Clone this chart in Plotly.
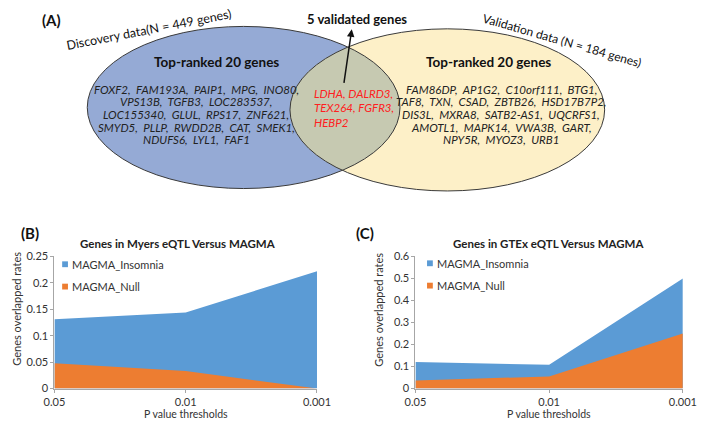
import numpy as np
import plotly.graph_objects as go

W, H = 720, 445

# ---------------- data ----------------
thresholds = ["0.05", "0.01", "0.001"]
myers_insomnia = [0.131, 0.144, 0.222]
myers_null = [0.048, 0.033, 0.0]
gtex_insomnia = [0.120, 0.108, 0.500]
gtex_null = [0.037, 0.055, 0.250]
series_names = ["MAGMA_Insomnia", "MAGMA_Null"]

S = ",\u00a0\u00a0"
left_genes = [
    ["FOXF2", "FAM193A", "PAIP1", "MPG", "INO80", ""],
    ["VPS13B", "TGFB3", "LOC283537", ""],
    ["LOC155340", "GLUL", "RPS17", "ZNF621", ""],
    ["SMYD5", "PLLP", "RWDD2B", "CAT", "SMEK1", ""],
    ["NDUFS6", "LYL1", "FAF1"],
]
right_genes = [
    ["FAM86DP", "AP1G2", "C10orf111", "BTG1", ""],
    ["TAF8", "TXN", "CSAD", "ZBTB26", "HSD17B7P2", ""],
    ["DIS3L", "MXRA8", "SATB2-AS1", "UQCRFS1", ""],
    ["AMOTL1", "MAPK14", "VWA3B", "GART", ""],
    ["NPY5R", "MYOZ3", "URB1"],
]
validated_lines = ["LDHA, DALRD3,", "TEX264, FGFR3,", "HEBP2"]

BLUE = "#5b9bd5"
ORANGE = "#ed7d31"
FONT = "Lato"


def px(x):
    return x / W


def py(y):
    return 1 - y / H


fig = go.Figure()

xi = list(range(len(thresholds)))
for xa, ya, ins, nul in [("x", "y", myers_insomnia, myers_null),
                         ("x2", "y2", gtex_insomnia, gtex_null)]:
    fig.add_trace(go.Scatter(x=xi, y=ins, xaxis=xa, yaxis=ya, mode="none", fill="tozeroy",
                             fillcolor=BLUE, name=series_names[0], showlegend=False))
    fig.add_trace(go.Scatter(x=xi, y=nul, xaxis=xa, yaxis=ya, mode="none", fill="tozeroy",
                             fillcolor=ORANGE, name=series_names[1], showlegend=False))

# ---------------- Venn ellipses ----------------
blue_c = (241, 103.5, 162, 83.5)
yel_c = (452, 106, 163, 83.5)
shapes = []
for (cx, cy, rx, ry), col in [(blue_c, "#95aad5"), (yel_c, "#fdf0c8")]:
    shapes.append(dict(type="circle", xref="paper", yref="paper",
                       x0=px(cx - rx), x1=px(cx + rx), y0=py(cy + ry), y1=py(cy - ry),
                       fillcolor=col, line=dict(width=0), layer="below"))


def inside(x, y, e):
    cx, cy, rx, ry = e
    return ((x - cx) / rx) ** 2 + ((y - cy) / ry) ** 2 <= 1


t = np.linspace(-np.pi, np.pi, 721)
bx = blue_c[0] + blue_c[2] * np.cos(t)
by = blue_c[1] + blue_c[3] * np.sin(t)
m = inside(bx, by, yel_c)
pts = list(zip(bx[m], by[m]))
t2 = np.linspace(0, 2 * np.pi, 721)
yx = yel_c[0] + yel_c[2] * np.cos(t2)
yy = yel_c[1] + yel_c[3] * np.sin(t2)
m2 = inside(yx, yy, blue_c)
pts += list(zip(yx[m2], yy[m2]))
path = "M " + " L ".join(f"{px(a):.5f},{py(b):.5f}" for a, b in pts) + " Z"
shapes.append(dict(type="path", xref="paper", yref="paper", path=path,
                   fillcolor="#c6c9b1", line=dict(width=0), layer="below"))
for (cx, cy, rx, ry) in [blue_c, yel_c]:
    shapes.append(dict(type="circle", xref="paper", yref="paper",
                       x0=px(cx - rx), x1=px(cx + rx), y0=py(cy + ry), y1=py(cy - ry),
                       line=dict(color="#3a3a3a", width=1), layer="below"))

ann = []


def text(x, y, s, size=11, color="#222222", bold=False, italic=False, angle=0, xanchor="center"):
    if bold:
        s = "<b>" + s + "</b>"
    if italic:
        s = "<i>" + s + "</i>"
    ann.append(dict(x=px(x), y=py(y), xref="paper", yref="paper", text=s, showarrow=False,
                    textangle=angle, xanchor=xanchor, yanchor="middle",
                    font=dict(family=FONT, size=size, color=color)))


text(42, 13, "(A)", size=15, color="#111111", bold=True)
text(143, 23, "Discovery data(N = 449 genes)", size=12.5, color="#111111", angle=-11)
text(571, 34, "Validation data (N = 184 genes)", size=12, color="#111111", angle=16)
text(358, 12, "5 validated genes", size=13, color="#111111", bold=True)
text(213, 57, "Top-ranked 20 genes", size=13.5, color="#111111", bold=True)
text(495, 57, "Top-ranked 20 genes", size=13.5, color="#111111", bold=True)
for i, g in enumerate(left_genes):
    text(192, 84.5 + 13.1 * i, S.join(g).rstrip("\u00a0"), size=11.5, italic=True)
for i, g in enumerate(right_genes):
    text(508, 84.5 + 13.1 * i, S.join(g).rstrip("\u00a0"), size=11.5, italic=True)
for i, s in enumerate(validated_lines):
    text(312, 89 + 14.8 * i, s, size=11.5, color="#ff2020", italic=True, xanchor="left")

ann.append(dict(x=px(353), y=py(23), ax=-8, ay=55, xref="paper", yref="paper",
                showarrow=True, arrowhead=2, arrowsize=1, arrowwidth=1.5, arrowcolor="#111111",
                text=""))

# panel labels & titles
text(20, 233, "(B)", size=15, color="#111111", bold=True)
text(367, 233, "(C)", size=15, color="#111111", bold=True)
text(173, 244, "Genes in Myers eQTL Versus MAGMA", size=11.5, color="#222222", bold=True)
text(557, 244, "Genes in GTEx eQTL Versus MAGMA", size=11.5, color="#222222", bold=True)
text(6, 311, "Genes overlapped rates", size=11, color="#333333", angle=-90)
text(381, 312, "Genes overlapped rates", size=11, color="#333333", angle=-90)
text(181, 419.5, "P value thresholds", size=10.5, color="#333333")
text(557, 419.5, "P value thresholds", size=10.5, color="#333333")

# legends (square swatches + labels)
for lx, ly in [(53, 265), (431, 264)]:
    for k, (nm, col) in enumerate(zip(series_names, [BLUE, ORANGE])):
        yc = ly + 23 * k
        shapes.append(dict(type="rect", xref="paper", yref="paper",
                           x0=px(lx), x1=px(lx + 6), y0=py(yc + 3), y1=py(yc - 3),
                           fillcolor=col, line=dict(width=0)))
        text(lx + 8, yc, nm, size=11, color="#333333", xanchor="left")

ydom = [py(393), py(257)]
axis_common = dict(showgrid=False, zeroline=False, showline=True, linecolor="#a6a6a6",
                   ticks="outside", tickcolor="#a6a6a6", ticklen=3,
                   tickfont=dict(family=FONT, size=11, color="#333333"))
fig.update_layout(
    width=W, height=H, margin=dict(l=0, r=0, t=0, b=0),
    paper_bgcolor="white", plot_bgcolor="white",
    xaxis=dict(domain=[px(45), px(317)], range=[0, 2], tickvals=xi, ticktext=thresholds,
               anchor="y", **axis_common),
    yaxis=dict(domain=ydom, range=[0, 0.25], dtick=0.05, anchor="x", **axis_common),
    xaxis2=dict(domain=[px(419), px(696)], range=[0, 2], tickvals=xi, ticktext=thresholds,
                anchor="y2", **axis_common),
    yaxis2=dict(domain=ydom, range=[0, 0.6], dtick=0.1, anchor="x2", **axis_common),
    shapes=shapes, annotations=ann, showlegend=False,
)

fig.write_html("out.html", config={"displayModeBar": False},
               post_script="document.body.style.margin='0';document.body.style.overflow='hidden';")
